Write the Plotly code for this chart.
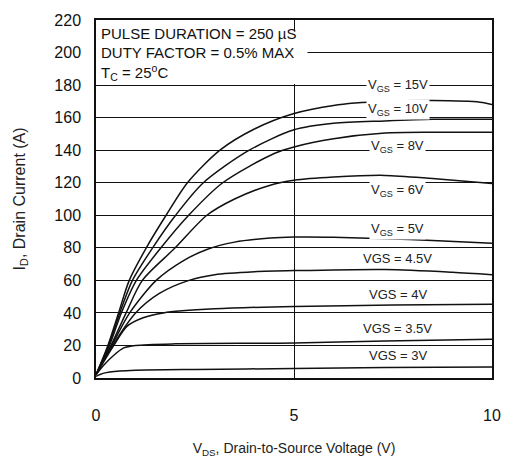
import plotly.graph_objects as go

# ---- data (V_DS in volts, I_D in amps) ----
vgs_labels = ["15V", "10V", "8V", "6V", "5V", "4.5V", "4V", "3.5V", "3V"]

vds_15 = [0, 0.3, 0.57, 0.84, 1.27, 1.77, 2.31, 3.13, 4.0, 5.0, 6.0, 7.3, 8.5, 9.7, 10]
id_15 = [2, 20, 40, 60, 80, 100, 120, 140, 153, 162.5, 167.5, 170, 170.5, 169.5, 168]

vds_10 = [0, 0.32, 0.6, 0.92, 1.43, 2.01, 2.71, 3.87, 5.0, 6.0, 7.3, 8.5, 10]
id_10 = [2, 20, 40, 60, 80, 100, 120, 140, 152.5, 156.5, 158, 159, 159]

vds_8 = [0, 0.34, 0.64, 1.02, 1.64, 2.34, 3.2, 4.5, 5.0, 6.0, 7.3, 8.5, 10]
id_8 = [2, 20, 40, 60, 80, 100, 120, 138, 142, 147, 150.5, 151, 151]

vds_6 = [0, 0.38, 0.76, 1.17, 2.0, 2.8, 3.5, 4.4, 5.0, 6.0, 7.3, 8.5, 10]
id_6 = [2, 20, 40, 60, 80, 100, 110, 118.5, 121.5, 123.5, 124.5, 122.6, 119.6]

vds_5 = [0, 0.4, 0.85, 1.52, 2.2, 2.8, 3.5, 4.4, 5.0, 6.0, 7.3, 8.5, 10]
id_5 = [2, 20, 40, 60, 72, 79, 83.5, 86, 86.6, 86.5, 85.6, 84.5, 82.8]

vds_45 = [0, 0.42, 1.0, 1.6, 2.35, 3.0, 4.0, 5.0, 7.3, 9.0, 10]
id_45 = [2, 20, 40, 52, 60, 63.5, 65.3, 66, 66.7, 65, 63.5]

vds_4 = [0, 0.45, 0.78, 1.19, 1.7, 3.0, 5.0, 7.5, 10]
id_4 = [2, 20, 31.7, 37, 40, 42.5, 44, 44.8, 45.3]

vds_35 = [0, 0.2, 0.45, 0.7, 1.0, 2.0, 5.0, 7.3, 10]
id_35 = [2, 8, 14, 18.5, 20, 21, 21.5, 22.8, 23.8]

vds_3 = [0, 0.2, 0.6, 1.0, 2.5, 5.0, 7.3, 10]
id_3 = [1, 3, 4.3, 4.8, 5.3, 5.8, 6.4, 6.8]

curves_x = [vds_15, vds_10, vds_8, vds_6, vds_5, vds_45, vds_4, vds_35, vds_3]
curves_y = [id_15, id_10, id_8, id_6, id_5, id_45, id_4, id_35, id_3]

x_ticks = [0, 5, 10]
y_ticks = list(range(0, 221, 20))

# label anchor positions (data coords)
label_x = [7.62] * 9
label_y = [180, 165, 142.5, 115, 91.5, 73.5, 51.5, 30.5, 13.8]
label_text = [
    "V<sub>GS</sub> = 15V", "V<sub>GS</sub> = 10V", "V<sub>GS</sub> = 8V",
    "V<sub>GS</sub> = 6V", "V<sub>GS</sub> = 5V", "VGS = 4.5V", "VGS = 4V",
    "VGS = 3.5V", "VGS = 3V",
]

FONT = "Liberation Sans, Arial, sans-serif"

fig = go.Figure()
for name, xs, ys in zip(vgs_labels, curves_x, curves_y):
    fig.add_trace(go.Scatter(
        x=xs, y=ys, mode="lines", name=name,
        line=dict(color="#111111", width=1.5, shape="spline", smoothing=0.8),
        showlegend=False, hoverinfo="skip",
    ))

# white box behind the test-condition text (hides grid lines only)
fig.add_shape(type="rect", xref="x", yref="y", x0=0, x1=5.34, y0=180.6, y1=213,
              fillcolor="white", line=dict(width=0), layer="between")

fig.add_annotation(xref="paper", yref="paper", x=0.008, y=0.962, xanchor="left", yanchor="middle",
                   text="PULSE DURATION = 250 µS", showarrow=False,
                   font=dict(family=FONT, size=15, color="#111"))
fig.add_annotation(xref="paper", yref="y", x=0.008, y=200, xanchor="left", yanchor="middle",
                   text="DUTY FACTOR = 0.5% MAX", showarrow=False,
                   font=dict(family=FONT, size=15, color="#111"))
fig.add_annotation(xref="paper", yref="paper", x=0.008, y=0.852, xanchor="left", yanchor="middle",
                   text="T<sub>C</sub> = 25<sup>o</sup>C", showarrow=False,
                   font=dict(family=FONT, size=15, color="#111"))

for lx, ly, lt in zip(label_x, label_y, label_text):
    fig.add_annotation(x=lx, y=ly, text=lt, showarrow=False, xanchor="center", yanchor="middle",
                       bgcolor="white", borderpad=1,
                       font=dict(family=FONT, size=13, color="#222"))

fig.update_xaxes(range=[0, 10], tickvals=x_ticks, ticktext=[str(v) for v in x_ticks],
                 showgrid=True, gridcolor="#111", gridwidth=1.2,
                 showline=True, linecolor="#111", linewidth=1.5, mirror=True,
                 zeroline=False, ticks="", ticklabelstandoff=22,
                 tickfont=dict(family=FONT, size=16, color="#111"),
                 title=dict(text="V<sub>DS</sub>, Drain-to-Source Voltage (V)", standoff=20,
                            font=dict(family=FONT, size=14, color="#222")))
fig.update_yaxes(range=[0, 220], tickvals=y_ticks, ticktext=[str(v) for v in y_ticks],
                 showgrid=True, gridcolor="#111", gridwidth=1.2,
                 showline=True, linecolor="#111", linewidth=1.5, mirror=True,
                 zeroline=False, ticks="", ticklabelstandoff=10,
                 tickfont=dict(family=FONT, size=16, color="#111"),
                 title=dict(text="I<sub>D</sub>, Drain Current (A)", standoff=25,
                            font=dict(family=FONT, size=16, color="#222")))

fig.update_layout(width=513, height=466, margin=dict(l=96, r=13, t=17, b=83),
                  plot_bgcolor="white", paper_bgcolor="white")

# remove the default 8px page margin so the figure fills the window exactly
fig.write_html("out.html", config={"displayModeBar": False},
               post_script="document.body.style.margin='0px';")
